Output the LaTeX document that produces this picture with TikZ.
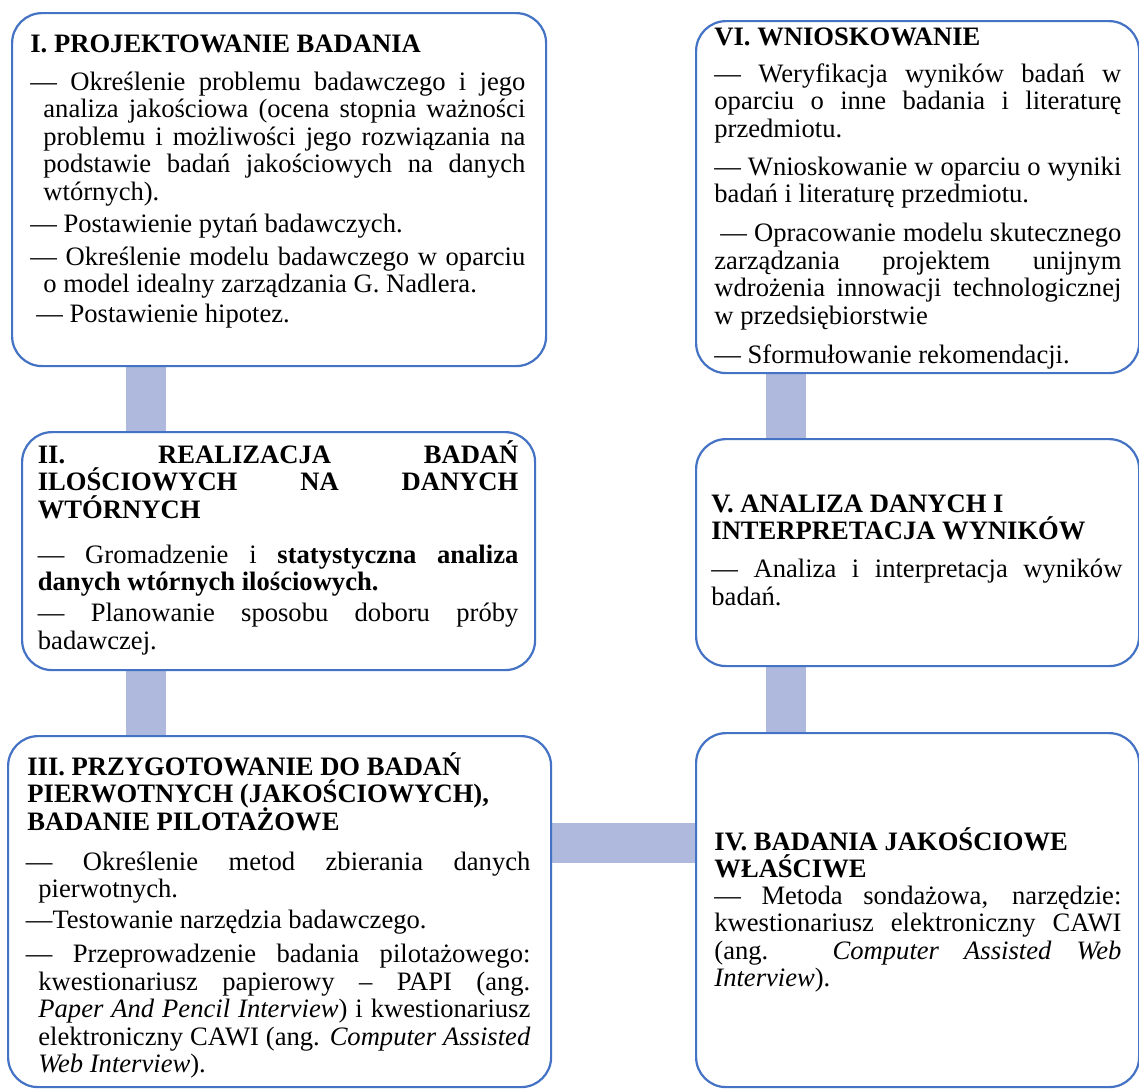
\documentclass[tikz,border=0pt]{standalone}
\usepackage{fontspec}
\setmainfont{Liberation Serif}
\usetikzlibrary{calc}
\pgfdeclarelayer{background}
\pgfsetlayers{background,main}
\definecolor{boxblue}{RGB}{68,114,196}
\definecolor{barblue}{RGB}{174,185,221}
% line helpers: justified line (stretched to the column) and plain line
\newlength\colw
\newcommand\jline[2][0pt]{\hbox{\hspace*{#1}\makebox[\dimexpr\colw-#1\relax][s]{#2}}}
\newcommand\lline[2][0pt]{\hbox{\hspace*{#1}#2}}
\newcommand\txtblock[2]{\vtop{\setlength\colw{#1}\baselineskip=13.75pt\lineskiplimit=-100pt\lineskip=0pt\relax #2}}
\hbadness=10000 \hfuzz=8pt

\begin{document}
\begin{tikzpicture}[x=1pt,y=-1pt,
  stage/.style={rectangle, draw=boxblue, line width=1.1pt, fill=white,
    rounded corners=15pt, inner sep=0pt, anchor=north west},
  stagetext/.style={anchor=base west, inner sep=0pt,
    font=\fontsize{13.3}{13.75}\selectfont, text=black},
  linkbar/.style={draw=barblue, line width=20pt}]
\useasboundingbox (0,0) rectangle (569.5,544);

% stage frames
\node[stage, minimum width=267pt, minimum height=176.5pt] (b1) at (5.5,6) {};
\node[stage, minimum width=256.5pt, minimum height=119pt] (b2) at (10.5,215.5) {};
\node[stage, minimum width=271.5pt, minimum height=175.5pt] (b3) at (3.5,367.5) {};
\node[stage, minimum width=221.5pt, minimum height=177pt] (b4) at (347.5,366) {};
\node[stage, minimum width=221.5pt, minimum height=113.5pt] (b5) at (347.5,219) {};
\node[stage, minimum width=221.5pt, minimum height=176pt] (b6) at (347.5,10) {};

% connecting bars behind the frames
\begin{pgfonlayer}{background}
\fill[white] (0,0) rectangle (569.5,544);
\coordinate (lx) at (73,0);
\coordinate (rx) at (393,0);
\coordinate (hy) at (0,421.5);
\draw[linkbar] (b1.south -| lx) -- (b2.north -| lx);
\draw[linkbar] (b2.south -| lx) -- (b3.north -| lx);
\draw[linkbar] (b6.south -| rx) -- (b5.north -| rx);
\draw[linkbar] (b5.south -| rx) -- (b4.north -| rx);
\draw[linkbar] (b3.east |- hy) -- (b4.west |- hy);
\end{pgfonlayer}

% I
\node[stagetext] (t1) at (15,26) {\txtblock{247.5pt}{%
\lline{\textbf{I. PROJEKTOWANIE BADANIA}}
\vskip5.25pt
\jline{— Określenie problemu badawczego i jego}
\jline[6.5pt]{analiza jakościowa (ocena stopnia ważności}
\jline[6.5pt]{problemu i możliwości jego rozwiązania na}
\jline[6.5pt]{podstawie badań jakościowych na danych}
\lline[6.5pt]{wtórnych).}
\vskip2.25pt
\lline{— Postawienie pytań badawczych.}
\vskip2.75pt
\jline{— Określenie modelu badawczego w oparciu}
\lline[6.5pt]{o model idealny zarządzania G. Nadlera.}
\vskip1.25pt
\lline[3pt]{— Postawienie hipotez.}
}};

% II
\node[stagetext] (t2) at (18.75,231.5) {\txtblock{240.25pt}{%
\jline{\textbf{II. REALIZACJA BADAŃ}}
\jline{\textbf{ILOŚCIOWYCH NA DANYCH}}
\lline{\textbf{WTÓRNYCH}}
\vskip8.75pt
\jline{— Gromadzenie i \textbf{statystyczna analiza}}
\lline{\textbf{danych wtórnych ilościowych.}}
\vskip1.75pt
\jline{— Planowanie sposobu doboru próby}
\lline{badawczej.}
}};

% III
\node[stagetext] (t3) at (12.75,387.5) {\txtblock{252.25pt}{%
\lline[0.75pt]{\textbf{III. PRZYGOTOWANIE DO BADAŃ}}
\lline[0.75pt]{\textbf{PIERWOTNYCH (JAKOŚCIOWYCH),}}
\lline[0.75pt]{\textbf{BADANIE PILOTAŻOWE}}
\vskip6.25pt
\jline{— Określenie metod zbierania danych}
\lline[6.25pt]{pierwotnych.}
\vskip1.75pt
\lline{—Testowanie narzędzia badawczego.}
\vskip3.25pt
\jline{— Przeprowadzenie badania pilotażowego:}
\jline[6.25pt]{kwestionariusz papierowy – PAPI (ang.}
\jline[6.25pt]{\textit{Paper And Pencil Interview}) i kwestionariusz}
\jline[6.25pt]{elektroniczny CAWI (ang. \textit{Computer Assisted}}
\lline[6.25pt]{\textit{Web Interview}).}
}};

% IV
\node[stagetext] (t4) at (357,425) {\txtblock{203.5pt}{%
\lline{\textbf{IV. BADANIA JAKOŚCIOWE}}
\lline{\textbf{WŁAŚCIWE}}
\vskip-0.5pt
\jline{— Metoda sondażowa, narzędzie:}
\jline{kwestionariusz elektroniczny CAWI}
\jline{(ang. \textit{Computer Assisted Web}}
\lline{\textit{Interview}).}
}};

% V
\node[stagetext] (t5) at (355.5,256) {\txtblock{205.5pt}{%
\lline{\textbf{V. ANALIZA DANYCH I}}
\lline{\textbf{INTERPRETACJA WYNIKÓW}}
\vskip5.25pt
\jline{— Analiza i interpretacja wyników}
\lline{badań.}
}};

% VI
\node[stagetext] (t6) at (357,22.5) {\txtblock{203.5pt}{%
\lline{\textbf{VI. WNIOSKOWANIE}}
\vskip4.75pt
\jline{— Weryfikacja wyników badań w}
\jline{oparciu o inne badania i literaturę}
\lline{przedmiotu.}
\vskip5.25pt
\jline{— Wnioskowanie w oparciu o wyniki}
\lline{badań i literaturę przedmiotu.}
\vskip5.75pt
\jline[3pt]{— Opracowanie modelu skutecznego}
\jline{zarządzania projektem unijnym}
\jline{wdrożenia innowacji technologicznej}
\lline{w przedsiębiorstwie}
\vskip5.75pt
\lline{— Sformułowanie rekomendacji.}
}};
\end{tikzpicture}
\end{document}
